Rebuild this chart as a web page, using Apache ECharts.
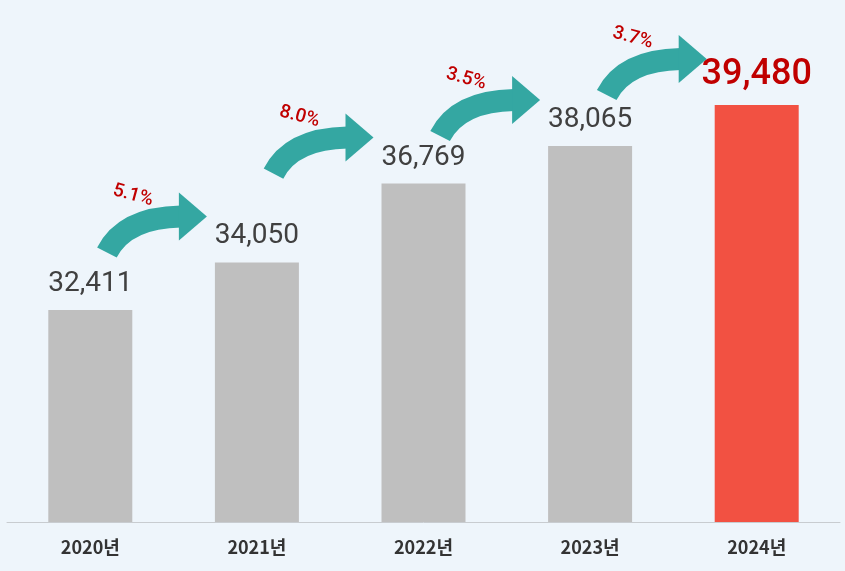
<!DOCTYPE html>
<html><head><meta charset="utf-8">
<script src="https://cdn.jsdelivr.net/npm/echarts@6/dist/echarts.min.js"></script>
<style>html,body{margin:0;background:#eef5fb}#c{width:845px;height:571px}</style>
</head><body><div id="c"></div>
<script>
var years = ['2020년', '2021년', '2022년', '2023년', '2024년'];
var values = [32411, 34050, 36769, 38065, 39480];
var growth = ['5.1%', '8.0%', '3.5%', '3.7%'];

var chart = echarts.init(document.getElementById('c'));
var arrowData = growth.map(function (g, i) { return [i, values[i], values[i + 1], g]; });

chart.setOption({
    backgroundColor: '#eef5fb',
    grid: { left: 7, right: 5, top: 0, bottom: 49 },
    xAxis: {
        type: 'category', data: years,
        axisTick: { show: false },
        axisLine: { lineStyle: { color: '#c8ccd0' } },
        axisLabel: { color: '#333', fontSize: 18, fontWeight: 'bold', margin: 16, fontFamily: 'Noto Sans CJK KR' }
    },
    yAxis: { type: 'value', min: 25100, max: 43100, show: false, splitLine: { show: false } },
    series: [{
        type: 'bar', barWidth: 84,
        data: values.map(function (v, i) {
            var last = i === values.length - 1;
            return {
                value: v,
                itemStyle: { color: last ? '#f25142' : '#bfbfbf' },
                label: last ? { color: '#c00000', fontSize: 36, fontWeight: 500 } : {}
            };
        }),
        label: {
            show: true, position: 'top', distance: 12, color: '#404040', fontSize: 28,
            fontFamily: 'Roboto',
            formatter: function (p) { return p.value.toLocaleString('en-US'); }
        }
    }, {
        type: 'custom',
        data: arrowData,
        z: 10,
        renderItem: function (params, api) {
            var b = api.coord([api.value(0) + 1, api.value(2)]);
            var hx = b[0] - 50, hy = b[1] - 46;
            var tx = hx - 100, ty = hy + 36;
            var ex = hx - 26;
            var teal = '#34a7a2';
            return {
                type: 'group',
                children: [{
                    type: 'bezierCurve',
                    shape: { x1: tx, y1: ty, cpx1: tx + 18, cpy1: hy + 1, x2: ex, y2: hy },
                    style: { stroke: teal, lineWidth: 22, fill: null, lineCap: 'butt' }
                }, {
                    type: 'polygon',
                    shape: { points: [[ex - 2, hy - 24], [hx, hy], [ex - 2, hy + 24]] },
                    style: { fill: teal }
                }, {
                    type: 'text',
                    x: tx + 26, y: ty - 57, rotation: -15 * Math.PI / 180,
                    style: {
                        text: api.value(3), fill: '#c00000', fontSize: 19, fontWeight: 500,
                        fontFamily: 'Roboto', align: 'center', verticalAlign: 'middle'
                    }
                }]
            };
        }
    }]
});
</script></body></html>
